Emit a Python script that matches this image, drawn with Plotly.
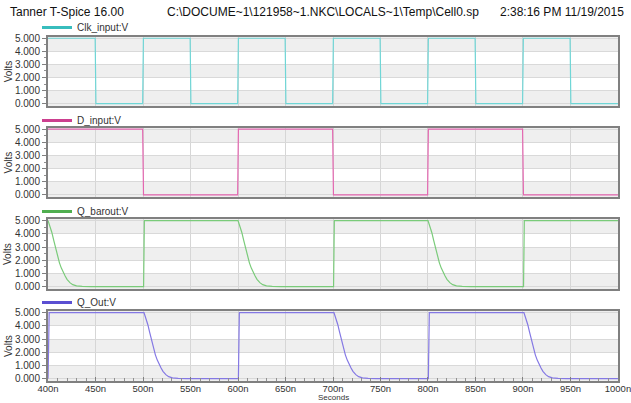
import plotly.graph_objects as go
from plotly.subplots import make_subplots

# ---------------- data (ns, V) ----------------
clk_t = [400, 449.6, 450.4, 499.6, 500.4, 549.6, 550.4, 599.6, 600.4, 649.6, 650.4, 699.6,
         700.4, 749.6, 750.4, 799.6, 800.4, 849.6, 850.4, 899.6, 900.4, 949.6, 950.4, 1000]
clk_v = [5, 5, 0, 0, 5, 5, 0, 0, 5, 5, 0, 0, 5, 5, 0, 0, 5, 5, 0, 0, 5, 5, 0, 0]

d_t = [400, 499.6, 500.2, 500.5, 599.6, 600.4, 699.6, 700.2, 700.5, 799.6, 800.4, 899.6, 900.2, 900.5, 1000]
d_v = [5, 5, 1.8, 0, 0, 5, 5, 1.8, 0, 0, 5, 5, 1.8, 0, 0]

qbar_t = [400, 402, 404, 406, 408, 410, 412, 414, 416, 418, 420, 423, 426, 430, 436, 445,
          500.6, 501.4,
          600, 602, 604, 606, 608, 610, 612, 614, 616, 618, 620, 623, 626, 630, 636, 645,
          700.6, 701.4,
          800, 802, 804, 806, 808, 810, 812, 814, 816, 818, 820, 823, 826, 830, 836, 845,
          900.6, 901.4, 1000]
qbar_v = [5, 4.6, 4.1, 3.5, 2.9, 2.3, 1.8, 1.4, 1.05, 0.8, 0.55, 0.3, 0.15, 0.06, 0.02, 0,
          0, 5,
          5, 4.6, 4.1, 3.5, 2.9, 2.3, 1.8, 1.4, 1.05, 0.8, 0.55, 0.3, 0.15, 0.06, 0.02, 0,
          0, 5,
          5, 4.6, 4.1, 3.5, 2.9, 2.3, 1.8, 1.4, 1.05, 0.8, 0.55, 0.3, 0.15, 0.06, 0.02, 0,
          0, 5, 5]

qout_t = [400, 400.6, 401.2,
          501, 503, 505, 507, 509, 511, 513, 515, 517, 519, 521, 524, 527, 531, 537, 546,
          600.4, 600.9, 601.4,
          701, 703, 705, 707, 709, 711, 713, 715, 717, 719, 721, 724, 727, 731, 737, 746,
          800.4, 800.9, 801.4,
          901, 903, 905, 907, 909, 911, 913, 915, 917, 919, 921, 924, 927, 931, 937, 946,
          1000]
qout_v = [0, 4.4, 5,
          5, 4.6, 4.1, 3.5, 2.9, 2.3, 1.8, 1.4, 1.05, 0.8, 0.55, 0.3, 0.15, 0.06, 0.02, 0,
          0, 4.4, 5,
          5, 4.6, 4.1, 3.5, 2.9, 2.3, 1.8, 1.4, 1.05, 0.8, 0.55, 0.3, 0.15, 0.06, 0.02, 0,
          0, 4.4, 5,
          5, 4.6, 4.1, 3.5, 2.9, 2.3, 1.8, 1.4, 1.05, 0.8, 0.55, 0.3, 0.15, 0.06, 0.02, 0,
          0]

names = ["Clk_input:V", "D_input:V", "Q_barout:V", "Q_Out:V"]
x_ticks = [400, 450, 500, 550, 600, 650, 700, 750, 800, 850, 900, 950, 1000]
x_ticktext = ["400n", "450n", "500n", "550n", "600n", "650n", "700n", "750n",
              "800n", "850n", "900n", "950n", "1000n"]
y_ticks = [0, 1, 2, 3, 4, 5]

title_left = "Tanner T-Spice 16.00"
title_mid = "C:\\DOCUME~1\\121958~1.NKC\\LOCALS~1\\Temp\\Cell0.sp"
title_right = "2:38:16 PM 11/19/2015"

# ---------------- styling ----------------
W, H = 631, 403
ML, MR = 48, 13
PW = W - ML - MR
line_cols = ["#6fd6d6", "#e466b0", "#7acb7a", "#8478e4"]
leg_cols = ["#38bdbd", "#cc3f8f", "#4fae4f", "#5b4fd2"]
FONT = "Liberation Sans, Arial, sans-serif"
YR = [-0.18, 5.12]
XR = [399.95, 1000.05]

# panel pixel extents (top, bottom) and legend y
panels = [(36.7, 106), (127.5, 197.3), (219, 289), (311, 381)]
leg_y = [27.5, 120.5, 211.5, 302.5]

def px_x(p):
    return (p - ML) / PW

def px_y(p):
    return 1 - p / H

fig = make_subplots(rows=4, cols=1, shared_xaxes=True)

series = [(clk_t, clk_v), (d_t, d_v), (qbar_t, qbar_v), (qout_t, qout_v)]
for i, (t, v) in enumerate(series):
    fig.add_trace(go.Scatter(x=t, y=v, mode="lines", line=dict(color=line_cols[i], width=1.2),
                             showlegend=False, hoverinfo="skip"), row=i + 1, col=1)
    lg = "legend" if i == 0 else f"legend{i + 1}"
    fig.add_trace(go.Scatter(x=[None], y=[None], mode="lines", name=names[i],
                             line=dict(color=leg_cols[i], width=3), legend=lg,
                             showlegend=True), row=i + 1, col=1)

layout = dict(width=W, height=H, margin=dict(l=ML, r=MR, t=0, b=0),
              paper_bgcolor="white", plot_bgcolor="white",
              font=dict(family=FONT, size=10, color="#333333"))

for i, (top, bot) in enumerate(panels):
    ax = "" if i == 0 else str(i + 1)
    layout["yaxis" + ax] = dict(
        domain=[px_y(bot), px_y(top)], range=YR, tickvals=y_ticks, tickformat=".3f",
        showline=True, mirror=True, linecolor="#808080", linewidth=2,
        ticks="outside", ticklen=4, tickcolor="#808080",
        minor=dict(dtick=0.5, ticks="outside", ticklen=2, tickcolor="#909090", showgrid=False),
        showgrid=True, gridcolor="#d9d9d9", gridwidth=1, zeroline=False,
        tickfont=dict(size=10, color="#333333"), automargin=False, fixedrange=True)
    layout["xaxis" + ax] = dict(
        range=XR, tickvals=x_ticks, ticktext=x_ticktext,
        showline=True, mirror=True, linecolor="#808080", linewidth=2,
        showgrid=True, gridcolor="#d6d6d6", gridwidth=1, zeroline=False,
        showticklabels=(i == 3), ticks="inside" if i == 3 else "", ticklen=4,
        tickcolor="#808080", ticklabeloverflow="allow", ticklabelstandoff=-2,
        minor=dict(dtick=10, ticks="inside" if i == 3 else "", ticklen=3, tickcolor="#909090",
                   showgrid=False),
        tickfont=dict(size=9.5, color="#333333"), automargin=False, fixedrange=True)
    lg = "legend" if i == 0 else f"legend{i + 1}"
    layout[lg] = dict(x=px_x(37), y=px_y(leg_y[i]), xanchor="left", yanchor="middle",
                      bgcolor="rgba(0,0,0,0)", borderwidth=0, tracegroupgap=0,
                      font=dict(size=10, color="#333333", family=FONT))

fig.update_layout(**layout)

# alternating background bands
shapes = []
for i in range(4):
    ax = "" if i == 0 else str(i + 1)
    for y0, y1 in [(4, YR[1]), (2, 3), (YR[0], 1)]:
        shapes.append(dict(type="rect", xref=f"x{ax} domain", yref=f"y{ax}",
                           x0=0, x1=1, y0=y0, y1=y1, fillcolor="#efefef",
                           line=dict(width=0), layer="below"))
fig.update_layout(shapes=shapes)

ann = [
    dict(text=title_left, x=px_x(8), y=px_y(12), xanchor="left", yanchor="middle"),
    dict(text=title_mid, x=px_x(165), y=px_y(12), xanchor="left", yanchor="middle"),
    dict(text=title_right, x=px_x(626), y=px_y(12), xanchor="right", yanchor="middle"),
]
for a in ann:
    a.update(xref="paper", yref="paper", showarrow=False,
             font=dict(size=12, color="#111111", family=FONT))
for i, (top, bot) in enumerate(panels):
    ann.append(dict(text="Volts", x=px_x(8), y=px_y((top + bot) / 2), xref="paper",
                    yref="paper", showarrow=False, textangle=-90, xanchor="center",
                    yanchor="middle", font=dict(size=10, color="#333333", family=FONT)))
ann.append(dict(text="Seconds", x=px_x(333), y=px_y(404), xref="paper", yref="paper",
                showarrow=False, xanchor="center", yanchor="bottom",
                font=dict(size=8, color="#333333", family=FONT)))
fig.update_layout(annotations=ann)

fig.write_html("out.html")
